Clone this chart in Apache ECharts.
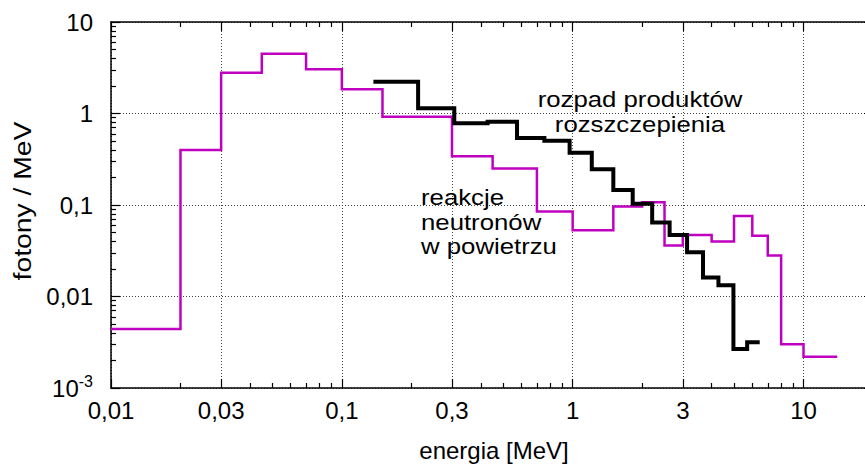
<!DOCTYPE html>
<html>
<head>
<meta charset="utf-8">
<script src="https://cdn.jsdelivr.net/npm/echarts@6/dist/echarts.min.js"></script>
<style>
  html, body { margin: 0; padding: 0; background: #fff; }
  #chart { width: 865px; height: 465px; }
</style>
</head>
<body>
<div id="chart"></div>
<script>
// Photon spectrum from neutron reactions in air: bin edges (MeV) and photons / MeV per bin
const airEdges = [0.01, 0.02, 0.03, 0.045, 0.07, 0.1, 0.15, 0.3, 0.45, 0.7, 1.0, 1.5, 2.0, 2.5, 3.0, 4.0, 5.0, 6.0, 7.0, 8.0, 10.0, 14.0];
const airValues = [0.0044, 0.40, 2.79, 4.51, 3.04, 1.84, 0.92, 0.34, 0.25, 0.085, 0.053, 0.096, 0.107, 0.036, 0.047, 0.040, 0.076, 0.046, 0.028, 0.0030, 0.0022];

// Photon spectrum from fission product decay
const fissionEdges = [0.137, 0.214, 0.307, 0.428, 0.574, 0.754, 0.97, 1.21, 1.50, 1.82, 2.21, 2.63, 3.13, 3.67, 4.28, 4.97, 5.70, 6.46];
const fissionValues = [2.23, 1.14, 0.78, 0.81, 0.54, 0.505, 0.372, 0.246, 0.146, 0.103, 0.0644, 0.047, 0.0304, 0.0161, 0.0133, 0.00267, 0.00316];

// Axis ticks (energy in MeV, photons / MeV)
const xMajorTicks = [0.01, 0.03, 0.1, 0.3, 1, 3, 10];
const xMajorLabels = ['0,01', '0,03', '0,1', '0,3', '1', '3', '10'];
const xMinorTicks = [0.02, 0.04, 0.05, 0.06, 0.07, 0.08, 0.09, 0.2, 0.4, 0.5, 0.6, 0.7, 0.8, 0.9, 2, 4, 5, 6, 7, 8, 9];
const yMajorTicks = [0.001, 0.01, 0.1, 1, 10];
const yMajorLabels = ['{b|10}{s|-3}', '0,01', '0,1', '1', '10'];
const yMinorTicks = [];
[0.001, 0.01, 0.1, 1].forEach(function (d) { for (let k = 2; k <= 9; k++) yMinorTicks.push(d * k); });

const xRange = [0.01, 20];
const yRange = [0.001, 10];

const FONT = "'Liberation Sans', Arial, Helvetica, sans-serif";
const FS = 24;
const lg = Math.log10;

// histogram outline: one point per bin edge, last edge repeats the last value
function histogram(edges, values) {
  return edges.map(function (e, i) {
    return [lg(e), lg(values[Math.min(i, values.length - 1)])];
  });
}

function labelFor(ticks, labels) {
  return function (v) {
    for (let i = 0; i < ticks.length; i++) {
      if (Math.abs(lg(ticks[i]) - v) < 1e-6) return labels[i];
    }
    return '';
  };
}

function axisSet(dim, range, majors, minors, labels) {
  const isX = dim === 'x';
  const lo = lg(range[0]), hi = lg(range[1]);
  const base = {
    type: 'value', min: lo, max: hi, scale: true,
    axisLine: { show: false, onZero: false },
    splitLine: { show: false },
    axisLabel: { show: false },
    axisTick: { show: false }
  };
  const majorVals = majors.map(lg), minorVals = minors.map(lg);
  const main = Object.assign({}, base, {
    position: isX ? 'bottom' : 'left',
    axisLine: { show: true, onZero: false, lineStyle: { color: '#000', width: 1.5 } },
    axisTick: { show: true, inside: true, length: 9, customValues: majorVals, lineStyle: { color: '#000', width: 1.2 } },
    axisLabel: {
      show: true, customValues: majorVals, formatter: labelFor(majors, labels),
      color: '#000', fontFamily: FONT, fontSize: FS, margin: isX ? 10 : 18,
      rich: {
        b: { fontFamily: FONT, fontSize: FS, color: '#000' },
        s: { fontFamily: FONT, fontSize: 16, color: '#000', verticalAlign: 'bottom', padding: [0, 0, 13, 0] }
      }
    },
    splitLine: { show: true, lineStyle: { color: '#444', width: 1, type: [1, 2] } }
  });
  const mirror = Object.assign({}, base, {
    position: isX ? 'top' : 'right',
    axisLine: { show: true, onZero: false, lineStyle: { color: '#000', width: 1.5 } },
    axisTick: { show: true, inside: true, length: 9, customValues: majorVals, lineStyle: { color: '#000', width: 1.2 } }
  });
  const minorA = Object.assign({}, base, {
    position: isX ? 'top' : 'right',
    axisTick: { show: true, inside: true, length: 5, customValues: minorVals, lineStyle: { color: '#000', width: 1.2 } }
  });
  const minorB = Object.assign({}, base, {
    position: isX ? 'bottom' : 'left',
    axisTick: { show: true, inside: true, length: 5, customValues: minorVals, lineStyle: { color: '#000', width: 1.2 } }
  });
  return [main, mirror, minorA, minorB];
}

const chart = echarts.init(document.getElementById('chart'), null, { renderer: 'svg' });

const textStyle = function (text, size, align) {
  return { text: text, font: size + 'px ' + FONT, fill: '#000', align: align, verticalAlign: 'top', lineHeight: 25 };
};

chart.setOption({
  animation: false,
  backgroundColor: '#fff',
  grid: { left: 111, top: 22, width: 762, height: 366, containLabel: false, outerBoundsMode: 'none' },
  xAxis: axisSet('x', xRange, xMajorTicks, xMinorTicks, xMajorLabels),
  yAxis: axisSet('y', yRange, yMajorTicks, yMinorTicks, yMajorLabels),
  series: [
    {
      name: 'reakcje neutronów w powietrzu',
      type: 'line', step: 'end', symbol: 'none',
      xAxisIndex: 0, yAxisIndex: 0,
      data: histogram(airEdges, airValues),
      lineStyle: { color: '#c000c0', width: 2.5, join: 'miter' },
      z: 3
    },
    {
      name: 'rozpad produktów rozszczepienia',
      type: 'line', step: 'end', symbol: 'none',
      xAxisIndex: 0, yAxisIndex: 0,
      data: histogram(fissionEdges, fissionValues),
      lineStyle: { color: '#000', width: 4, join: 'miter' },
      z: 4
    }
  ],
  graphic: [
    // annotations
    { type: 'text', x: 640, y: 86, z: 10, scaleX: 1.12, style: textStyle('rozpad produktów\nrozszczepienia', 23, 'center') },
    { type: 'text', x: 421, y: 184, z: 10, scaleX: 1.12, style: textStyle('reakcje\nneutronów\nw powietrzu', 23, 'left') },
    // axis titles
    { type: 'text', x: 494, y: 438, z: 10, style: textStyle('energia [MeV]', 24, 'center') },
    { type: 'text', x: 10, y: 201, z: 10, rotation: Math.PI / 2, scaleX: 1.18, style: textStyle('fotony / MeV', 24, 'center') }
  ]
});
</script>
</body>
</html>
